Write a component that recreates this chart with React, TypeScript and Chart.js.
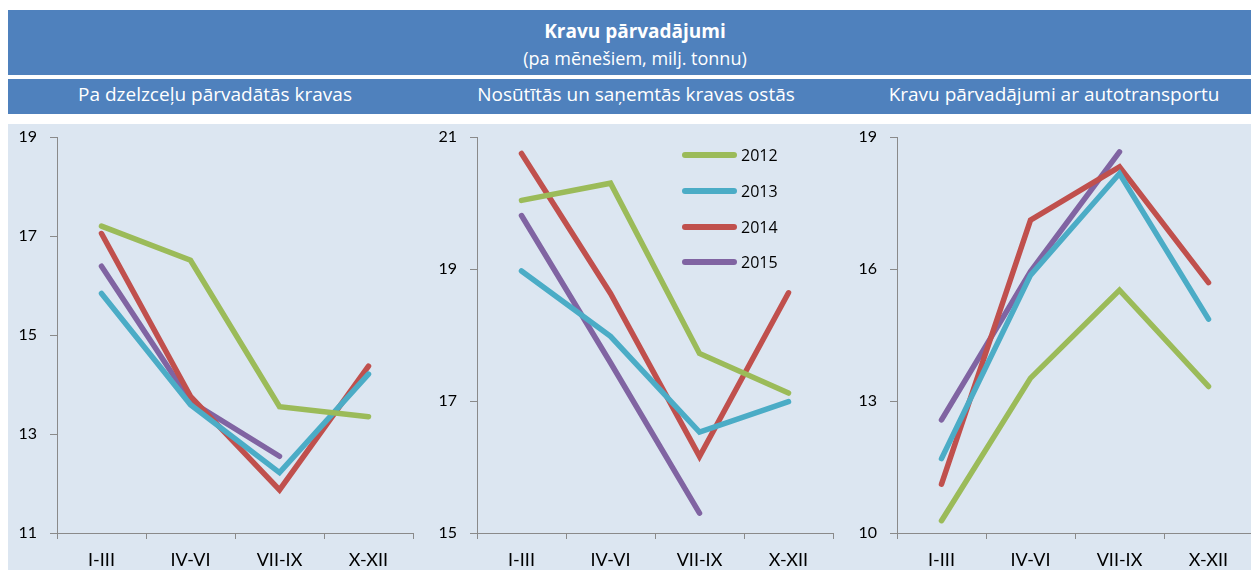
import React, { useEffect, useRef } from "react";
import { Chart, registerables } from "chart.js";

Chart.register(...registerables);

// ---------- data ----------
const categories = ["I-III", "IV-VI", "VII-IX", "X-XII"];
const years = ["2012", "2013", "2014", "2015"];

// Pa dzelzceļu pārvadātās kravas
const rail2012 = [17.2, 16.51, 13.55, 13.35];
const rail2013 = [15.84, 13.59, 12.22, 14.21];
const rail2014 = [17.05, 13.76, 11.87, 14.37];
const rail2015 = [16.39, 13.66, 12.55, null];

// Nosūtītās un saņemtās kravas ostās
const port2012 = [20.04, 20.3, 17.72, 17.12];
const port2013 = [18.97, 17.98, 16.53, 16.99];
const port2014 = [20.75, 18.63, 16.16, 18.64];
const port2015 = [19.81, 17.58, 15.3, null];

// Kravu pārvadājumi ar autotransportu
const road2012 = [10.28, 13.52, 15.52, 13.33];
const road2013 = [11.69, 15.86, 18.17, 14.86];
const road2014 = [11.11, 17.11, 18.32, 15.69];
const road2015 = [12.57, 15.94, 18.66, null];

const railTicks = { min: 11, max: 19, step: 2 };
const portTicks = { min: 15, max: 21, step: 2 };
const roadTicks = { min: 10, max: 19, step: 3 };

const mainTitle = "Kravu pārvadājumi";
const subTitle = "(pa mēnešiem, milj. tonnu)";
const panelTitles = [
  "Pa dzelzceļu pārvadātās kravas",
  "Nosūtītās un saņemtās kravas ostās",
  "Kravu pārvadājumi ar autotransportu",
];

// ---------- styles ----------
const colors = ["#9BBB59", "#4BACC6", "#C0504D", "#8064A2"];
const headerBlue = "#4F81BD";
const panelBg = "#DCE6F1";
const axisColor = "#8a8a8a";
const FONT = "'Open Sans', Lato, sans-serif";
const TICKFONT = "Lato, 'Open Sans', sans-serif";

type PanelProps = {
  series: (number | null)[][];
  min: number;
  max: number;
  step: number;
  left: number;
};

function Panel({ series, min, max, step, left }: PanelProps) {
  const ref = useRef<HTMLCanvasElement | null>(null);
  useEffect(() => {
    if (!ref.current) return;
    const chart = new Chart(ref.current, {
      type: "line",
      data: {
        labels: categories,
        datasets: series.map((d, i) => ({
          label: years[i],
          data: d,
          borderColor: colors[i],
          backgroundColor: colors[i],
          borderWidth: 5.5,
          pointRadius: 0,
          pointHoverRadius: 0,
          borderCapStyle: "round",
          borderJoinStyle: "miter",
          tension: 0,
          spanGaps: false,
          fill: false,
        })),
      },
      options: {
        animation: false,
        responsive: false,
        maintainAspectRatio: false,
        layout: { padding: { top: 13, right: 7, left: 0, bottom: 0 } },
        plugins: {
          legend: { display: false },
          tooltip: { enabled: false },
          title: { display: false },
        },
        scales: {
          x: {
            offset: true,
            grid: {
              display: true,
              drawOnChartArea: false,
              drawTicks: true,
              tickLength: 6,
              offset: true,
              color: axisColor,
            },
            border: { display: true, color: axisColor, width: 1 },
            ticks: {
              font: { family: TICKFONT, size: 18 },
              color: "#000",
              padding: 10,
              maxRotation: 0,
              autoSkip: false,
            },
            afterFit: (s: any) => {
              s.height = 37;
              s.paddingLeft = 0;
              s.paddingRight = 0;
            },
          },
          y: {
            min,
            max,
            grid: {
              display: true,
              drawOnChartArea: false,
              drawTicks: true,
              tickLength: 7,
              color: axisColor,
            },
            border: { display: true, color: axisColor, width: 1 },
            ticks: {
              stepSize: step,
              font: { family: TICKFONT, size: 16 },
              color: "#000",
              padding: 13,
            },
            afterFit: (s: any) => {
              s.width = 57;
              s.paddingTop = 0;
              s.paddingBottom = 0;
            },
          },
        },
      },
    } as any);
    return () => chart.destroy();
  }, []);
  return (
    <canvas
      ref={ref}
      width={420}
      height={446}
      style={{ position: "absolute", left, top: 124, width: 420, height: 446, display: "block" }}
    />
  );
}

const legendYs = [155, 191, 227, 262];

export default function App() {
  return (
    <div
      style={{
        position: "fixed",
        left: 0,
        top: 0,
        width: 1251,
        height: 570,
        overflow: "hidden",
        background: "#fff",
        fontFamily: FONT,
      }}
    >
      {/* header */}
      <div
        style={{
          position: "absolute",
          left: 8,
          top: 10,
          width: 1243,
          height: 65,
          background: headerBlue,
          color: "#fff",
          textAlign: "center",
        }}
      >
        <div style={{ position: "absolute", left: 11, right: 0, top: 8.6, fontSize: 19, fontWeight: 700, lineHeight: "24px", whiteSpace: "nowrap" }}>
          {mainTitle}
        </div>
        <div style={{ position: "absolute", left: 11, right: 0, top: 36, fontSize: 18, lineHeight: "24px", whiteSpace: "nowrap" }}>
          {subTitle}
        </div>
      </div>
      {/* sub-header band */}
      <div
        style={{
          position: "absolute",
          left: 8,
          top: 79,
          width: 1243,
          height: 35,
          background: headerBlue,
        }}
      />
      {[215, 636, 1054].map((cx, i) => (
        <div
          key={i}
          style={{
            position: "absolute",
            left: cx - 200,
            width: 400,
            top: 82,
            textAlign: "center",
            color: "#fff",
            fontSize: 19,
            lineHeight: "24px",
            whiteSpace: "nowrap",
          }}
        >
          {panelTitles[i]}
        </div>
      ))}
      {/* panel background */}
      <div
        style={{
          position: "absolute",
          left: 8,
          top: 124,
          width: 1243,
          height: 446,
          background: panelBg,
        }}
      />
      <Panel series={[rail2012, rail2013, rail2014, rail2015]} min={railTicks.min} max={railTicks.max} step={railTicks.step} left={0} />
      <Panel series={[port2012, port2013, port2014, port2015]} min={portTicks.min} max={portTicks.max} step={portTicks.step} left={420} />
      <Panel series={[road2012, road2013, road2014, road2015]} min={roadTicks.min} max={roadTicks.max} step={roadTicks.step} left={840} />
      {/* legend */}
      {years.map((y, i) => (
        <React.Fragment key={y}>
          <div
            style={{
              position: "absolute",
              left: 682,
              top: legendYs[i] - 3,
              width: 55,
              height: 6,
              borderRadius: 3,
              background: colors[i],
            }}
          />
          <div
            style={{
              position: "absolute",
              left: 741,
              top: legendYs[i] - 11,
              fontSize: 16,
              lineHeight: "22px",
              color: "#000",
            }}
          >
            {y}
          </div>
        </React.Fragment>
      ))}
    </div>
  );
}
